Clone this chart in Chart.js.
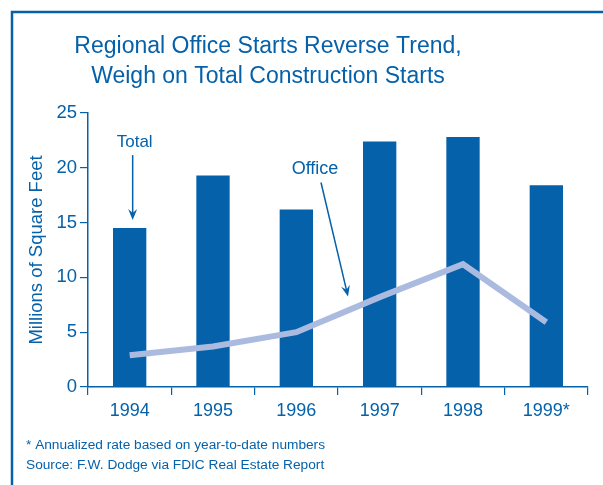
<!DOCTYPE html>
<html>
<head>
<meta charset="utf-8">
<script src="https://cdn.jsdelivr.net/npm/chart.js@4/dist/chart.umd.min.js"></script>
<style>
  html, body { margin: 0; padding: 0; background: #fff; }
  #wrap { width: 603px; height: 485px; position: relative; }
</style>
</head>
<body>
<div id="wrap"><canvas id="chart"></canvas></div>
<script>
const years = ['1994', '1995', '1996', '1997', '1998', '1999*'];
const totalStarts = [14.5, 19.3, 16.2, 22.4, 22.8, 18.4];
const officeStarts = [2.9, 3.7, 5.0, 8.2, 11.2, 5.9];
const titleLines = ['Regional Office Starts Reverse Trend,', 'Weigh on Total Construction Starts'];
const footnotes = ['* Annualized rate based on year-to-date numbers', 'Source: F.W. Dodge via FDIC Real Estate Report'];

const BLUE = '#0461aa';
const LINE_BLUE = '#abbbe0';
const FONT = '"Liberation Sans", Arial, sans-serif';

function arrow(ctx, x1, y1, x2, y2) {
  const ang = Math.atan2(y2 - y1, x2 - x1);
  const len = 11, half = 4.5;
  ctx.beginPath();
  ctx.moveTo(x1, y1);
  ctx.lineTo(x2 - Math.cos(ang) * 6, y2 - Math.sin(ang) * 6);
  ctx.stroke();
  ctx.save();
  ctx.translate(x2, y2);
  ctx.rotate(ang);
  ctx.beginPath();
  ctx.moveTo(0, 0);
  ctx.lineTo(-len, -half);
  ctx.lineTo(-len + 4, 0);
  ctx.lineTo(-len, half);
  ctx.closePath();
  ctx.fill();
  ctx.restore();
}

// frame, title, notes and the two arrow labels
const decorations = {
  id: 'decorations',
  beforeDraw(chart) {
    const ctx = chart.ctx;
    ctx.save();
    ctx.strokeStyle = BLUE;
    ctx.lineWidth = 2.5;
    ctx.strokeRect(12, 12, chart.width + 20, chart.height + 20);
    ctx.restore();
  },
  afterDraw(chart) {
    const ctx = chart.ctx;
    const x = chart.scales.x, y = chart.scales.y;
    ctx.save();
    ctx.fillStyle = BLUE;
    ctx.strokeStyle = BLUE;
    ctx.textAlign = 'center';
    ctx.textBaseline = 'middle';
    ctx.font = '23px ' + FONT;
    titleLines.forEach((t, i) => ctx.fillText(t, 268, 47 + i * 30));

    ctx.textAlign = 'left';
    ctx.font = '13.7px ' + FONT;
    footnotes.forEach((t, i) => ctx.fillText(t, 26, 445 + i * 20));

    // "Total" pointing at the 1994 bar
    const bx = x.getPixelForValue(0) + 3;
    const barTop = y.getPixelForValue(totalStarts[0]);
    ctx.lineWidth = 1.5;
    ctx.textAlign = 'center';
    ctx.font = '17px ' + FONT;
    ctx.fillText('Total', bx + 2, barTop - 86);
    arrow(ctx, bx, barTop - 73, bx, barTop - 8);

    // "Office" pointing at the line between 1996 and 1997
    const x0 = x.getPixelForValue(2), x1 = x.getPixelForValue(3);
    const f = 0.62;
    const lx = x0 + (x1 - x0) * f;
    const ly = y.getPixelForValue(officeStarts[2] + (officeStarts[3] - officeStarts[2]) * f);
    ctx.font = '18px ' + FONT;
    ctx.fillText('Office', lx - 33, ly - 141);
    arrow(ctx, lx - 27, ly - 128, lx, ly - 14);
    ctx.restore();
  }
};

new Chart(document.getElementById('chart'), {
  data: {
    labels: years,
    datasets: [
      {
        type: 'line',
        label: 'Office',
        data: officeStarts,
        borderColor: LINE_BLUE,
        borderWidth: 6,
        borderCapStyle: 'butt',
        pointRadius: 0,
        tension: 0,
        order: 0,
      },
      {
        type: 'bar',
        label: 'Total',
        data: totalStarts,
        backgroundColor: BLUE,
        borderWidth: 0,
        barPercentage: 0.4,
        categoryPercentage: 1,
        order: 1,
      },
    ],
  },
  options: {
    responsive: true,
    maintainAspectRatio: false,
    animation: false,
    layout: { padding: { top: 113, left: 0, right: 15, bottom: 0 } },
    plugins: { legend: { display: false }, tooltip: { enabled: false } },
    scales: {
      x: {
        afterFit: s => { s.height = 98; },
        grid: { display: true, offset: true, drawOnChartArea: false, color: BLUE, tickLength: 8, lineWidth: 1.2 },
        border: { color: BLUE, width: 1.5 },
        ticks: { color: BLUE, font: { family: FONT, size: 18 }, padding: 5 },
      },
      y: {
        min: 0,
        max: 25,
        afterFit: s => { s.width = 88; },
        grid: { drawOnChartArea: false, color: BLUE, tickLength: 8, lineWidth: 1.2 },
        border: { color: BLUE, width: 1.5 },
        ticks: { stepSize: 5, color: BLUE, font: { family: FONT, size: 18.5 }, padding: 3 },
        title: {
          display: true,
          text: 'Millions of Square Feet',
          color: BLUE,
          font: { family: FONT, size: 18.5 },
          padding: { top: 26, bottom: 0 },
        },
      },
    },
  },
  plugins: [decorations],
});
</script>
</body>
</html>
